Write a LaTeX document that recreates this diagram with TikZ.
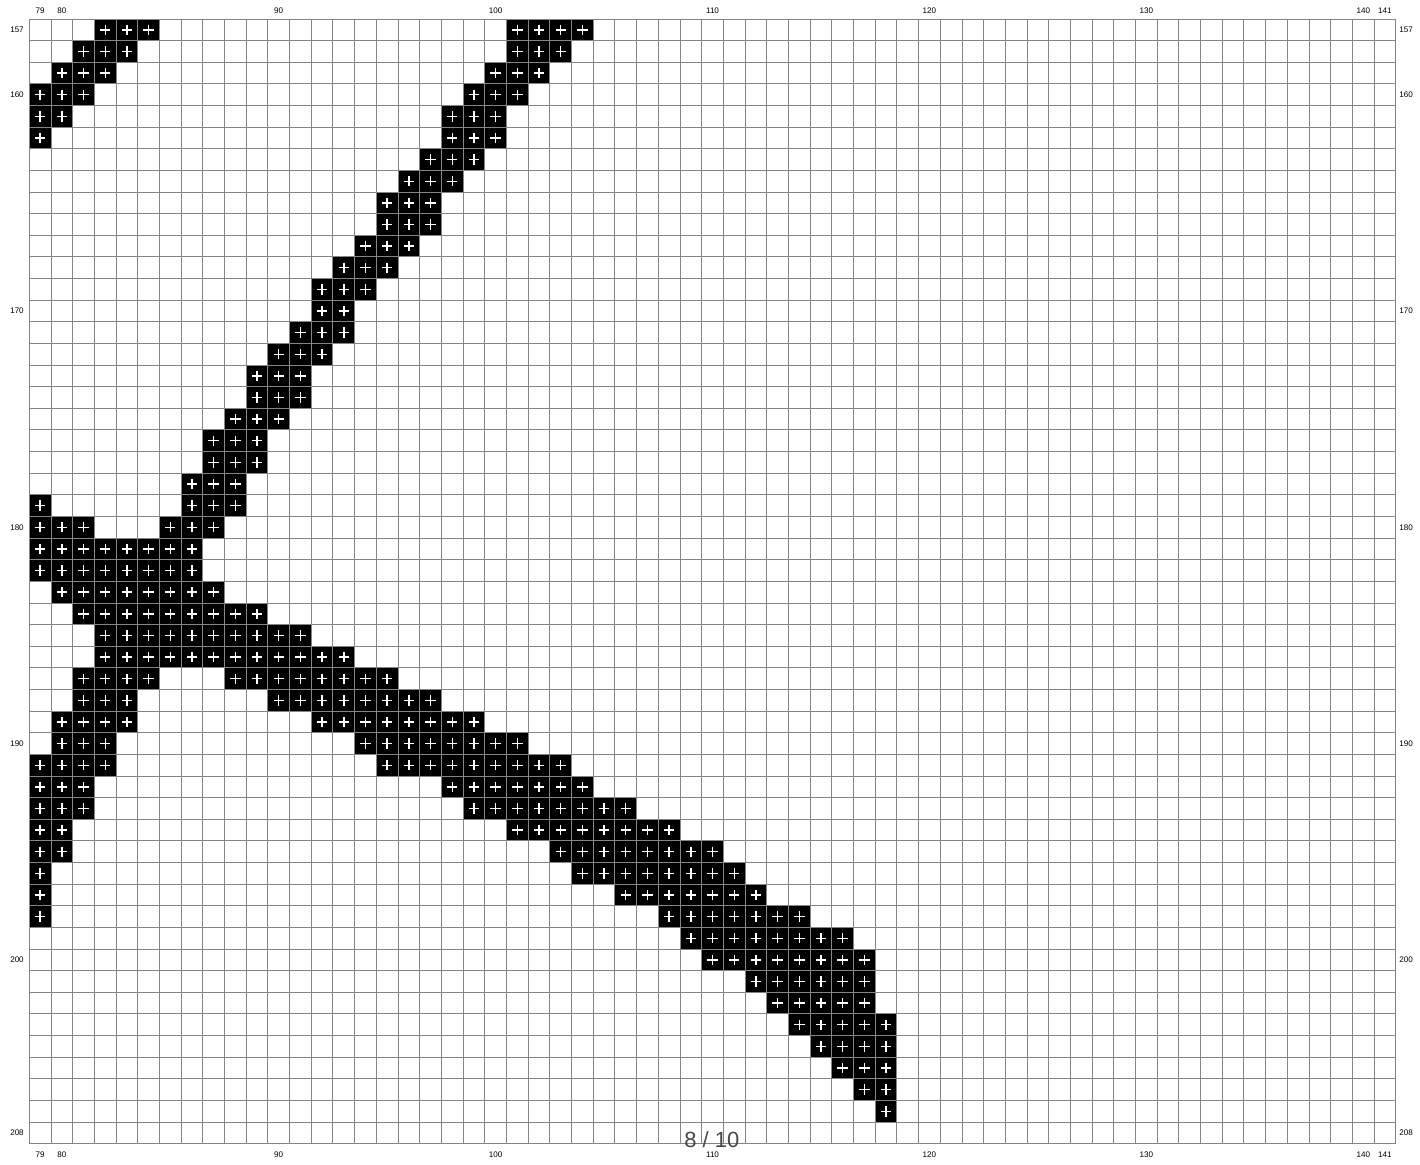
\documentclass[tikz,border=0pt]{standalone}
\usepackage{fontspec}
\setmainfont{Liberation Sans}

\begin{document}
\begin{tikzpicture}[x=0.4338cm, y=-0.4326cm,
    gridline/.style={draw=black!48, line width=0.55pt},
    stitch/.style={fill=black},
    cross/.style={draw=white, line width=0.8pt},
    axislabel/.style={font=\fontsize{4.6}{5}\selectfont, inner sep=0pt},
    pagelabel/.style={font=\fontsize{12.5}{14}\selectfont, text=black!72, inner sep=0pt}]
  \useasboundingbox (-1.351,-0.878) rectangle (64.117,52.982);
  \foreach \r/\a/\b in {157/82/84, 157/101/104, 158/81/83, 158/101/103,
      159/80/82, 159/100/102, 160/79/81, 160/99/101, 161/79/80, 161/98/100,
      162/79/79, 162/98/100, 163/97/99, 164/96/98, 165/95/97, 166/95/97,
      167/94/96, 168/93/95, 169/92/94, 170/92/93, 171/91/93, 172/90/92,
      173/89/91, 174/89/91, 175/88/90, 176/87/89, 177/87/89, 178/86/88,
      179/79/79, 179/86/88, 180/79/81, 180/85/87, 181/79/86, 182/79/86,
      183/80/87, 184/81/89, 185/82/91, 186/82/93, 187/81/84, 187/88/95,
      188/81/83, 188/90/97, 189/80/83, 189/92/99, 190/80/82, 190/94/101,
      191/79/82, 191/95/103, 192/79/81, 192/98/104, 193/79/81, 193/99/106,
      194/79/80, 194/101/108, 195/79/80, 195/103/110, 196/79/79, 196/104/111,
      197/79/79, 197/106/112, 198/79/79, 198/108/114, 199/109/116,
      200/110/117, 201/112/117, 202/113/117, 203/114/118, 204/115/118,
      205/116/118, 206/117/118, 207/118/118} {
    \foreach \c in {\a,...,\b} {
      \fill[stitch] (\c-79,\r-157) rectangle ++(1,1);
      \draw[cross] (\c-78.5,\r-156.5) +(-0.24,0) -- +(0.24,0) +(0,-0.24) -- +(0,0.24);
    }
  }
  \foreach \i in {0,...,63}
    \draw[gridline] (\i,0) -- (\i,52);
  \foreach \j in {0,...,52}
    \draw[gridline] (0,\j) -- (63,\j);
  \foreach \c in {79,80,90,100,110,120,130,140,141} {
    \node[axislabel] (top\c) at (\c-78.5,-0.37) {\c};
    \node[axislabel] (bot\c) at (\c-78.5,52.52) {\c};
  }
  \foreach \r in {157,160,170,180,190,200,208} {
    \node[axislabel, anchor=east] (left\r) at (-0.24,\r-156.5) {\r};
    \node[axislabel, anchor=west] (right\r) at (63.15,\r-156.5) {\r};
  }
  \node[pagelabel] (page) at (31.47,51.83) {8 / 10};
\end{tikzpicture}
\end{document}
